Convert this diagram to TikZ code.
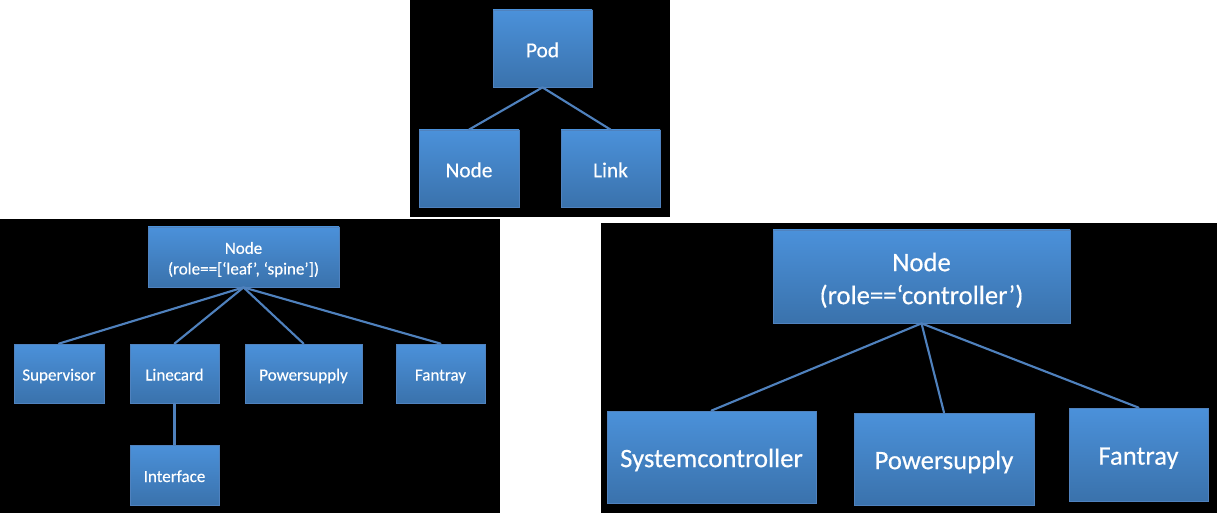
\documentclass[tikz,border=0pt]{standalone}
\usepackage{fontspec}
\setmainfont{Carlito}
\newfontfamily\boxfont[FakeBold=0.4]{Carlito}
\usetikzlibrary{positioning}
\definecolor{boxtop}{RGB}{75,145,218}
\definecolor{boxbot}{RGB}{58,114,172}
\definecolor{boxedge}{RGB}{80,130,190}
\definecolor{linkblue}{RGB}{79,129,189}
\newcommand{\lowered}[2]{\raisebox{-#1}[\height][\depth]{#2}}
\newcommand{\twolines}[2]{\begin{tabular}{@{}c@{}}#1\\#2\end{tabular}}
\begin{document}
\begin{tikzpicture}[x=0.75pt,y=-0.75pt]
\tikzset{
  treebox/.style={rectangle,draw=boxedge,line width=0.6pt,top color=boxtop,bottom color=boxbot,
    text=white,inner sep=0pt,align=center},
  podbox/.style={treebox,font=\boxfont\fontsize{16}{19}\selectfont,text height=15.7pt,text depth=2.6pt},
  leafhead/.style={treebox,font=\boxfont\fontsize{12.75}{15.5}\selectfont},
  leafbox/.style={leafhead,text height=12.5pt,text depth=2pt},
  ctrlhead/.style={treebox,font=\boxfont\fontsize{20}{24.75}\selectfont},
  ctrlbox/.style={ctrlhead,text height=18.8pt,text depth=3.6pt},
  treeedge/.style={draw=linkblue,line width=1.6pt,line cap=round}
}
\fill[white] (0,0) rectangle (1217,513);
\useasboundingbox (0,0) rectangle (1217,513);
% black panels
\fill[black] (410,0) rectangle (670,217);
\fill[black] (0,219) rectangle (500,513);
\fill[black] (601,223) rectangle (1217,513);
% pod tree
\node[podbox,minimum width=74.25pt,minimum height=57.75pt] (n_Pod) at (542.5,48.5) {Pod};
\node[podbox,minimum width=75pt,minimum height=57.75pt] (n_PodNode) at (469,168.5) {Node};
\node[podbox,minimum width=74.25pt,minimum height=57.75pt] (n_PodLink) at (610.5,168.5) {Link};
\draw[treeedge] (n_Pod.south) -- (n_PodNode.north);
\draw[treeedge] (n_Pod.south) -- (n_PodLink.north);
% leaf/spine tree
\node[leafhead,minimum width=143.25pt,minimum height=45pt] (n_Leaf) at (243.5,257)
  {\lowered{2.25pt}{\twolines{Node}{(role==[‘leaf’, ‘spine’])}}};
\node[leafbox,minimum width=67.5pt,minimum height=44.25pt] (n_LSup) at (59,373.5) {Supervisor};
\node[leafbox,minimum width=66.75pt,minimum height=44.25pt] (n_LLine) at (174.5,373.5) {Linecard};
\node[leafbox,minimum width=87.75pt,minimum height=44.25pt] (n_LPsu) at (303.5,373.5) {Powersupply};
\node[leafbox,minimum width=66.75pt,minimum height=44.25pt] (n_LFan) at (440.5,373.5) {Fantray};
\node[leafbox,minimum width=66.75pt,minimum height=45pt] (n_LIf) at (174.5,475) {Interface};
\draw[treeedge] (n_Leaf.south) -- (n_LSup.north);
\draw[treeedge] (n_Leaf.south) -- (n_LLine.north);
\draw[treeedge] (n_Leaf.south) -- (n_LPsu.north);
\draw[treeedge] (n_Leaf.south) -- (n_LFan.north);
\draw[treeedge] (n_LLine.south) -- (n_LIf.north);
% controller tree
\node[ctrlhead,minimum width=222.75pt,minimum height=69.75pt] (n_Ctrl) at (921.5,276.5)
  {\lowered{3.4pt}{\twolines{Node}{(role==‘controller’)}}};
\node[ctrlbox,minimum width=156.75pt,minimum height=69pt] (n_CSys) at (711.5,457) {Systemcontroller};
\node[ctrlbox,minimum width=135pt,minimum height=69pt] (n_CPsu) at (944,459) {Powersupply};
\node[ctrlbox,minimum width=104.25pt,minimum height=69.75pt] (n_CFan) at (1138.5,454.5) {Fantray};
\draw[treeedge] (n_Ctrl.south) -- (n_CSys.north);
\draw[treeedge] (n_Ctrl.south) -- (n_CPsu.north);
\draw[treeedge] (n_Ctrl.south) -- (n_CFan.north);
\end{tikzpicture}
\end{document}
